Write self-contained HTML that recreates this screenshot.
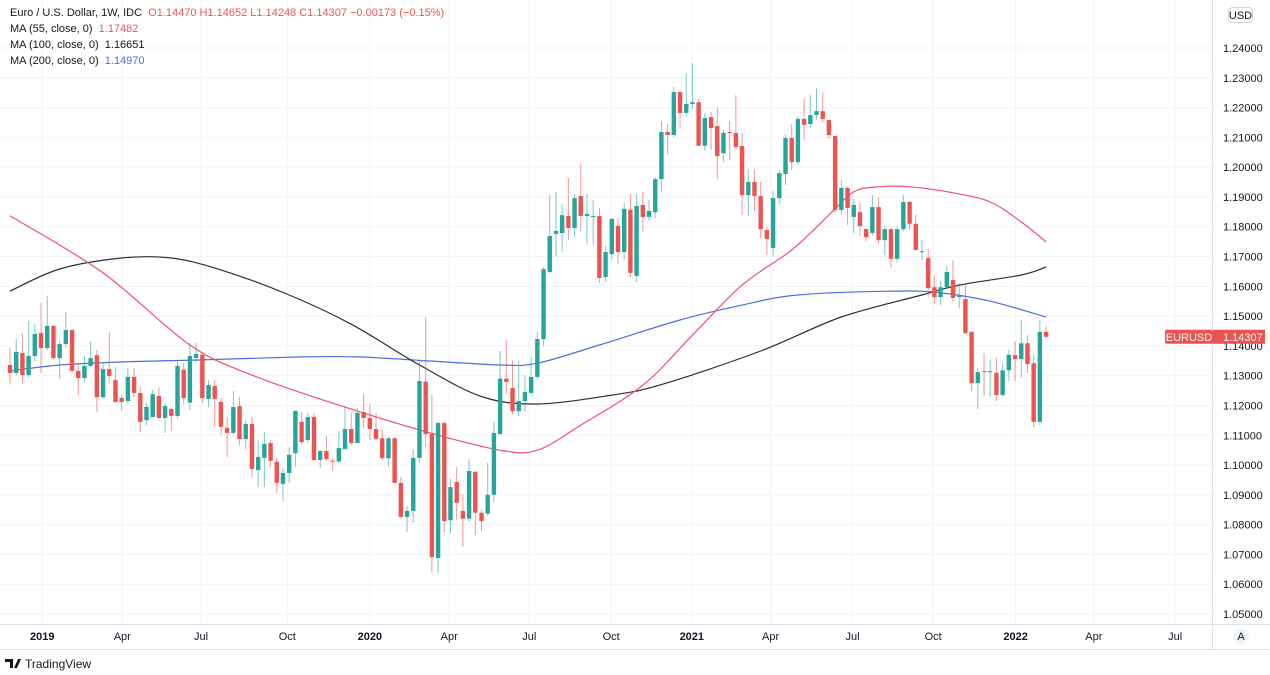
<!DOCTYPE html>
<html><head><meta charset="utf-8">
<style>
html,body{margin:0;padding:0;background:#fff;width:1270px;height:675px;overflow:hidden;font-family:"Liberation Sans",sans-serif;}
svg{display:block}
.hdr{position:absolute;left:10px;font-size:11px;color:#131722;white-space:nowrap}
</style></head>
<body>
<div style="position:relative;width:1270px;height:675px">
<svg id="chart" width="1270" height="675"></svg>
<div class="hdr" style="top:7px">Euro / U.S. Dollar, 1W, IDC&nbsp; <span style="color:#ef5350">O1.14470 H1.14652 L1.14248 C1.14307 −0.00173 (−0.15%)</span></div>
<div class="hdr" style="top:23px">MA (55, close, 0)&nbsp; <span style="color:#f0506e">1.17482</span></div>
<div class="hdr" style="top:39px">MA (100, close, 0)&nbsp; <span style="color:#131722">1.16651</span></div>
<div class="hdr" style="top:55px">MA (200, close, 0)&nbsp; <span style="color:#4a6fe0">1.14970</span></div>
</div>
<script>
const opens=[1.1336,1.1309,1.1376,1.1302,1.1366,1.1443,1.1393,1.1467,1.1359,1.1406,1.1453,1.1316,1.1292,1.1333,1.1369,1.1228,1.1322,1.1285,1.1225,1.1215,1.1296,1.1242,1.1151,1.1161,1.1232,1.1158,1.1188,1.1165,1.1320,1.1210,1.1359,1.1370,1.1222,1.1265,1.1212,1.1125,1.1108,1.1198,1.1087,1.1138,1.0983,1.1024,1.1074,1.1011,1.0937,1.0973,1.1040,1.1145,1.1084,1.1161,1.1017,1.1047,1.1015,1.1012,1.1054,1.1121,1.1074,1.1178,1.1158,1.1121,1.1090,1.1023,1.1090,1.0940,1.0826,1.0846,1.1024,1.1280,1.1104,1.0688,1.1141,1.0815,1.0943,1.0846,1.0820,1.0977,1.0840,1.0837,1.0900,1.1104,1.1290,1.1259,1.1181,1.1215,1.1242,1.1296,1.1423,1.1648,1.1776,1.1779,1.1836,1.1796,1.1903,1.1836,1.1833,1.1836,1.1631,1.1708,1.1803,1.1715,1.1857,1.1635,1.1873,1.1833,1.1849,1.1960,1.2118,1.2108,1.2252,1.2182,1.2212,1.2218,1.2072,1.2168,1.2138,1.2047,1.2118,1.2115,1.2071,1.1906,1.1950,1.1903,1.1789,1.1729,1.1896,1.1977,1.2098,1.2017,1.2162,1.2145,1.2175,1.2188,1.2158,1.2105,1.1856,1.1930,1.1833,1.1849,1.1792,1.1779,1.1866,1.1755,1.1792,1.1692,1.1792,1.1883,1.1810,1.1715,1.1695,1.1597,1.1564,1.1597,1.1621,1.1564,1.1557,1.1447,1.1275,1.1315,1.1312,1.1310,1.1235,1.1318,1.1369,1.1356,1.1409,1.1342,1.1145,1.1447];
const highs=[1.1395,1.1423,1.1443,1.1484,1.1474,1.1544,1.1568,1.1470,1.1416,1.1514,1.1456,1.1343,1.1366,1.1416,1.1386,1.1343,1.1447,1.1329,1.1235,1.1326,1.1326,1.1262,1.1208,1.1252,1.1262,1.1208,1.1195,1.1349,1.1343,1.1410,1.1410,1.1375,1.1285,1.1285,1.1225,1.1161,1.1248,1.1228,1.1151,1.1161,1.1084,1.1111,1.1084,1.1024,1.0990,1.1060,1.1182,1.1178,1.1175,1.1175,1.1051,1.1098,1.1024,1.1114,1.1198,1.1175,1.1192,1.1238,1.1205,1.1175,1.1118,1.1094,1.1095,1.0960,1.0863,1.1054,1.1353,1.1497,1.1235,1.1145,1.1145,1.0953,1.0994,1.0900,1.1020,1.0980,1.0850,1.1007,1.1145,1.1383,1.1420,1.1350,1.1350,1.1302,1.1363,1.1447,1.1665,1.1907,1.1917,1.1875,1.1964,1.1910,1.2011,1.1910,1.1890,1.1863,1.1735,1.1830,1.1830,1.1880,1.1910,1.1910,1.1917,1.1890,1.1965,1.2155,1.2145,1.2270,1.2255,1.2315,1.2350,1.2229,1.2180,1.2185,1.2200,1.2125,1.2155,1.2242,1.2115,1.1993,1.1993,1.1950,1.1800,1.1920,1.1990,1.2110,1.2145,1.2170,1.2232,1.2242,1.2265,1.2250,1.2160,1.2105,1.1957,1.1935,1.1893,1.1883,1.1795,1.1907,1.1900,1.1800,1.1795,1.1800,1.1907,1.1887,1.1840,1.1755,1.1725,1.1637,1.1620,1.1668,1.1688,1.1611,1.1605,1.1450,1.1326,1.1376,1.1353,1.1359,1.1342,1.1386,1.1416,1.1486,1.1436,1.1373,1.1486,1.1465];
const lows=[1.1270,1.1300,1.1272,1.1295,1.1349,1.1309,1.1385,1.1353,1.1289,1.1393,1.1310,1.1235,1.1279,1.1329,1.1178,1.1222,1.1275,1.1208,1.1181,1.1205,1.1228,1.1111,1.1134,1.1158,1.1150,1.1108,1.1114,1.1158,1.1205,1.1185,1.1346,1.1208,1.1195,1.1128,1.1100,1.1027,1.1104,1.1067,1.1054,1.0960,1.0926,1.0926,1.0994,1.0906,1.0879,1.0940,1.0994,1.1070,1.1074,1.1010,1.0990,1.1014,1.0980,1.1007,1.1054,1.1067,1.1074,1.1124,1.1084,1.1084,1.1017,1.0994,1.0940,1.0820,1.0775,1.0806,1.1007,1.1060,1.0640,1.0638,1.0775,1.0772,1.0816,1.0725,1.0810,1.0765,1.0780,1.0830,1.0875,1.1100,1.1240,1.1170,1.1165,1.1180,1.1240,1.1290,1.1400,1.1645,1.1700,1.1716,1.1755,1.1765,1.1783,1.1740,1.1740,1.1611,1.1615,1.1690,1.1675,1.1690,1.1630,1.1615,1.1783,1.1820,1.1830,1.1917,1.2044,1.2100,1.2132,1.2170,1.2195,1.2070,1.2055,1.2058,1.1960,1.2018,1.2024,1.2060,1.1840,1.1836,1.1853,1.1762,1.1705,1.1700,1.1876,1.1940,1.1990,1.2010,1.2090,1.2130,1.2160,1.2149,1.2095,1.1849,1.1840,1.1806,1.1779,1.1769,1.1752,1.1770,1.1745,1.1705,1.1662,1.1680,1.1785,1.1790,1.1720,1.1688,1.1565,1.1540,1.1536,1.1590,1.1546,1.1526,1.1440,1.1248,1.1188,1.1232,1.1228,1.1215,1.1230,1.1282,1.1282,1.1292,1.1309,1.1128,1.1135,1.1425];
const closes=[1.1309,1.1380,1.1302,1.1366,1.1440,1.1393,1.1467,1.1359,1.1406,1.1453,1.1316,1.1292,1.1333,1.1359,1.1228,1.1322,1.1299,1.1212,1.1212,1.1296,1.1242,1.1145,1.1195,1.1238,1.1158,1.1198,1.1165,1.1333,1.1225,1.1366,1.1373,1.1225,1.1269,1.1222,1.1128,1.1108,1.1195,1.1087,1.1138,1.0987,1.1027,1.1071,1.1014,1.0940,1.0973,1.1034,1.1182,1.1077,1.1161,1.1017,1.1047,1.1020,1.1012,1.1057,1.1121,1.1074,1.1175,1.1158,1.1121,1.1088,1.1023,1.1090,1.0940,1.0826,1.0846,1.1024,1.1282,1.1104,1.0691,1.1141,1.0812,1.0926,1.0873,1.0820,1.0980,1.0840,1.0812,1.0900,1.1108,1.1290,1.1279,1.1181,1.1215,1.1245,1.1296,1.1423,1.1658,1.1769,1.1786,1.1839,1.1796,1.1896,1.1836,1.1843,1.1836,1.1628,1.1715,1.1826,1.1715,1.1860,1.1645,1.1870,1.1833,1.1853,1.1960,1.2118,1.2108,1.2252,1.2182,1.2212,1.2218,1.2072,1.2165,1.2131,1.2037,1.2115,1.2115,1.2068,1.1906,1.1950,1.1903,1.1792,1.1759,1.1896,1.1980,1.2098,1.2017,1.2162,1.2142,1.2175,1.2188,1.2162,1.2108,1.1856,1.1930,1.1863,1.1873,1.1802,1.1765,1.1866,1.1755,1.1792,1.1692,1.1792,1.1883,1.1810,1.1722,1.1718,1.1594,1.1564,1.1597,1.1648,1.1561,1.1571,1.1443,1.1275,1.1312,1.1312,1.1315,1.1235,1.1318,1.1370,1.1356,1.1409,1.1339,1.1145,1.1447,1.14307];
const ma55Idx=[0,15,29,39,52,66,79,85,92,102,110,118,126,132,136,140,145,152,158,163,167];
const ma55Val=[1.1837,1.1645,1.1403,1.1302,1.1208,1.1118,1.1050,1.1050,1.1134,1.1268,1.1436,1.1604,1.1722,1.1839,1.1917,1.1934,1.1934,1.1914,1.1883,1.1816,1.1749];
const ma100Idx=[0,8,18,26,34,45,55,66,76,85,97,105,121,134,147,153,163,167];
const ma100Val=[1.1584,1.1658,1.1695,1.1695,1.1655,1.1571,1.1473,1.1336,1.1230,1.1205,1.1235,1.1270,1.1383,1.1497,1.1571,1.1604,1.1638,1.1665];
const ma200Idx=[0,8,18,31,47,56,68,79,85,95,108,118,127,143,150,158,167];
const ma200Val=[1.1316,1.1336,1.1346,1.1353,1.1363,1.1363,1.1349,1.1336,1.1342,1.1403,1.1487,1.1537,1.1571,1.1584,1.1578,1.1550,1.1497];
const priceTicks=[1.24,1.23,1.22,1.21,1.20,1.19,1.18,1.17,1.16,1.15,1.14,1.13,1.12,1.11,1.10,1.09,1.08,1.07,1.06,1.05];
const timeLabels=["2019","Apr","Jul","Oct","2020","Apr","Jul","Oct","2021","Apr","Jul","Oct","2022","Apr","Jul"];
const timeLabelIdx=[5.2,18.1,30.8,44.7,58.0,70.8,83.7,96.9,109.9,122.6,135.8,148.8,162.1,174.7,187.8];
const timeBold=[1,0,0,0,1,0,0,0,1,0,0,0,1,0,0];

const NS="http://www.w3.org/2000/svg";
const svg=document.getElementById('chart');
const yOf=p=>48+(1.24-p)*2979;
const xOf=i=>10+i*6.204;
function mk(tag,attrs,parent){const e=document.createElementNS(NS,tag);for(const k in attrs)e.setAttribute(k,attrs[k]);(parent||svg).appendChild(e);return e;}
const gGrid=mk('g',{});


priceTicks.forEach(p=>{
  const l=mk('line',{x1:0,x2:1212,y1:yOf(p),y2:yOf(p),stroke:'#f0f3fa','stroke-width':1},gGrid);
  
  
  const t=mk('text',{x:1223,y:yOf(p)+4,'font-size':11,fill:'#131722','font-family':'Liberation Sans, sans-serif'});
  t.textContent=p.toFixed(5);
  
  
});
timeLabels.forEach((s,i)=>{
  const x=xOf(timeLabelIdx[i]);
  const l=mk('line',{x1:x,x2:x,y1:0,y2:624,stroke:'#f0f3fa','stroke-width':1},gGrid);
  
  
  const t=mk('text',{x:x,y:640,'font-size':11,fill:'#131722','text-anchor':'middle','font-weight':timeBold[i]?'bold':'normal','font-family':'Liberation Sans, sans-serif'});
  t.textContent=s;
  
  
});
const ax1=mk('line',{x1:1212.5,x2:1212.5,y1:0,y2:649,stroke:'#e0e3eb'});


const ax2=mk('line',{x1:0,x2:1270,y1:624.5,y2:624.5,stroke:'#e0e3eb'});


const ax3=mk('line',{x1:0,x2:1270,y1:649.5,y2:649.5,stroke:'#e0e3eb'});



function maLine(idx,val,color,name){
  const P=idx.map((d,i)=>[xOf(d),yOf(val[i])]);
  let d='M'+P[0][0].toFixed(1)+','+P[0][1].toFixed(1);
  for(let i=0;i<P.length-1;i++){
    const p0=P[Math.max(0,i-1)],p1=P[i],p2=P[i+1],p3=P[Math.min(P.length-1,i+2)];
    const c1=[p1[0]+(p2[0]-p0[0])/6,p1[1]+(p2[1]-p0[1])/6];
    const c2=[p2[0]-(p3[0]-p1[0])/6,p2[1]-(p3[1]-p1[1])/6];
    d+=' C'+c1.map(v=>v.toFixed(1)).join(',')+' '+c2.map(v=>v.toFixed(1)).join(',')+' '+p2.map(v=>v.toFixed(1)).join(',');
  }
  const pl=mk('path',{d:d,fill:'none',stroke:color,'stroke-width':1.2});
  
  
}
maLine(ma200Idx,ma200Val,'#4a6fe0','ma200-line');
maLine(ma100Idx,ma100Val,'#2a2e39','ma100-line');
maLine(ma55Idx,ma55Val,'#f0506e','ma55-line');

const gC=mk('g',{});


closes.forEach((c,i)=>{
  const o=opens[i],up=c>=o,col=up?'#26a69a':'#ef5350';
  const x=xOf(i);
  const w=mk('line',{x1:x,x2:x,y1:yOf(highs[i]),y2:yOf(lows[i]),stroke:col,'stroke-width':1,opacity:0.6},gC);
  
  
  const top=yOf(Math.max(o,c)),bot=yOf(Math.min(o,c));
  const b=mk('rect',{x:x-2.2,y:top,width:4.4,height:Math.max(1,bot-top),fill:col},gC);
  
  
});
const lp=closes[closes.length-1],ly=yOf(lp);
const lb=mk('rect',{x:1165,y:ly-7,width:48,height:14,fill:'#ef5350',rx:2});


const lt=mk('text',{x:1189,y:ly+4,'font-size':11,fill:'#fff','text-anchor':'middle','font-family':'Liberation Sans, sans-serif'});
lt.textContent='EURUSD';


const pb=mk('rect',{x:1213,y:ly-7,width:52,height:14,fill:'#ef5350'});


const pt=mk('text',{x:1223,y:ly+4,'font-size':11,fill:'#fff','font-family':'Liberation Sans, sans-serif'});
pt.textContent=lp.toFixed(5);


const ub=mk('rect',{x:1228.5,y:7.5,width:24,height:15,rx:4,fill:'#fff',stroke:'#d1d4dc'});


const ut=mk('text',{x:1240.5,y:19,'font-size':11,fill:'#131722','text-anchor':'middle','font-family':'Liberation Sans, sans-serif'});
ut.textContent='USD';


const ac=mk('circle',{cx:1241,cy:636,r:8,fill:'#f0f3fa'});


const at=mk('text',{x:1241,y:640,'font-size':11,fill:'#131722','text-anchor':'middle','font-family':'Liberation Sans, sans-serif'});
at.textContent='A';


const lg=mk('path',{d:'M5 659h8v9h-3v-6h-5z M14 668l4-9h3l-4 9z',fill:'#131722'});


const lgt=mk('text',{x:25,y:668,'font-size':12,fill:'#131722','font-family':'Liberation Sans, sans-serif'});
lgt.textContent='TradingView';


</script>
</body></html>
